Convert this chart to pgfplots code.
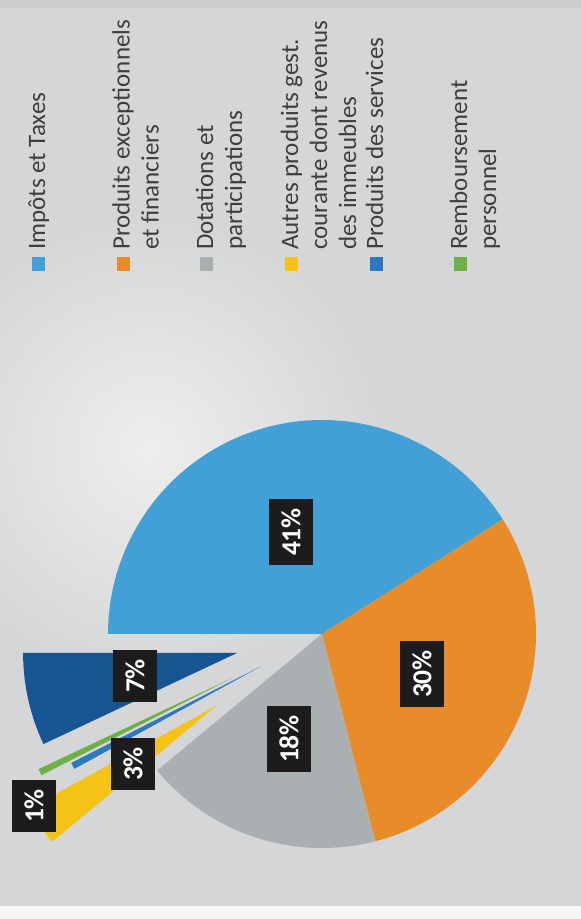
\documentclass[border=0pt]{standalone}
\usepackage{pgfplots}
\pgfplotsset{compat=1.18}
\usepackage{pgfplotstable}
\usepackage{fontspec}
\setmainfont{Carlito}

\definecolor{cImp}{RGB}{67,160,214}
\definecolor{cExc}{RGB}{232,140,42}
\definecolor{cDot}{RGB}{170,175,178}
\definecolor{cAut}{RGB}{245,195,22}
\definecolor{cSer}{RGB}{45,120,190}
\definecolor{cRem}{RGB}{110,175,70}
\definecolor{cSep}{RGB}{22,85,145}
\definecolor{bgGray}{RGB}{213,214,215}
\definecolor{bgLight}{RGB}{238,238,238}
\definecolor{labBg}{RGB}{28,28,28}
\definecolor{legText}{RGB}{62,62,62}

% slice values (%), explode distance (px), colour
\pgfplotstableread[col sep=comma]{
name,value,explode,color
Impots,41,0,cImp
Exceptionnels,30,0,cExc
Dotations,18,0,cDot
Autres,3,127,cAut
Services,0.5,68,cSer
Remboursement,0.5,100,cRem
Divers,7,87,cSep
}\pietable

\begin{document}
\begin{tikzpicture}
\begin{axis}[x=1bp, y=1bp, xmin=0, xmax=581, ymin=0, ymax=919,
  hide axis, clip=false]
% background (photographed page)
\begin{scope}
\clip (axis cs:0,0) rectangle (axis cs:581,919);
\fill[bgGray] (axis cs:0,0) rectangle (axis cs:581,919);
\shade[inner color=bgLight, outer color=bgGray, draw=none] (axis cs:150,470) circle[radius=230bp];
\fill[white!92!gray] (axis cs:0,0) rectangle (axis cs:581,13);
\fill[gray!45, opacity=0.5] (axis cs:0,911) rectangle (axis cs:581,919);
\end{scope}

% pie slices
\def\astart{180}
\pgfplotsforeachungrouped \i in {0,...,6}{%
  \pgfplotstablegetelem{\i}{value}\of\pietable \let\sliceval\pgfplotsretval
  \pgfplotstablegetelem{\i}{explode}\of\pietable \let\sliceexp\pgfplotsretval
  \pgfplotstablegetelem{\i}{color}\of\pietable \let\slicecol\pgfplotsretval
  \pgfmathsetmacro\aend{\astart-3.6*\sliceval}
  \pgfmathsetmacro\amid{(\astart+\aend)/2}
  \pgfmathsetmacro\px{322+\sliceexp*cos(\amid)}
  \pgfmathsetmacro\py{285+\sliceexp*sin(\amid)}
  \edef\cmd{\noexpand\addplot[fill=\slicecol, draw=none, domain=\aend:\astart, samples=90]
     ({\px+214*cos(x)},{\py+214*sin(x)}) -- (axis cs:\px,\py) -- cycle;}
  \cmd
  \let\astart\aend
}

% data labels
\tikzset{plab/.style={fill=labBg, text=white, rotate=90,
   font=\fontsize{27.5bp}{30bp}\selectfont\bfseries,
   minimum height=44bp, inner xsep=9.5bp, inner ysep=0pt, text depth=0pt}}
\node[plab] at (axis cs:291,387) {41\%};
\node[plab] at (axis cs:422,245) {30\%};
\node[plab] at (axis cs:289,180) {18\%};
\node[plab] at (axis cs:135,243) {7\%};
\node[plab] at (axis cs:133,155) {3\%};
\node[plab] at (axis cs:34,113) {1\%};

% legend
\tikzset{ltxt/.style={rotate=90, anchor=base west, inner sep=0pt, text=legText,
   font=\fontsize{25bp}{29bp}\selectfont}}
\newcommand\lsq[2]{\fill[#2] (axis cs:#1-13,648) rectangle (axis cs:#1,662);}
\lsq{45}{cImp}
\node[ltxt] at (axis cs:45,669) {Impôts et Taxes};
\lsq{129.5}{cExc}
\node[ltxt] at (axis cs:129.5,669) {Produits exceptionnels};
\node[ltxt] at (axis cs:158.5,669) {et financiers};
\lsq{213}{cDot}
\node[ltxt] at (axis cs:213,669) {Dotations et};
\node[ltxt] at (axis cs:242,669) {participations};
\lsq{298}{cAut}
\node[ltxt] at (axis cs:298,669) {Autres produits gest.};
\node[ltxt] at (axis cs:327,669) {courante dont revenus};
\node[ltxt] at (axis cs:356,669) {des immeubles};
\lsq{383}{cSer}
\node[ltxt] at (axis cs:383,669) {Produits des services};
\lsq{467}{cRem}
\node[ltxt] at (axis cs:467,669) {Remboursement};
\node[ltxt] at (axis cs:496,669) {personnel};
\end{axis}
\end{tikzpicture}
\end{document}
